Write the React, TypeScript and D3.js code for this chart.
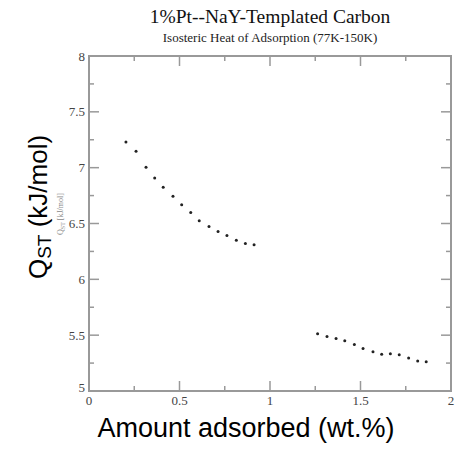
import React from "react";
import * as d3 from "d3";

const series1X = [0.204, 0.26, 0.315, 0.363, 0.41, 0.464, 0.512, 0.562, 0.609, 0.663, 0.713, 0.762, 0.814, 0.864, 0.912];
const series1Y = [7.23, 7.146, 7.003, 6.908, 6.824, 6.744, 6.667, 6.598, 6.524, 6.473, 6.429, 6.393, 6.351, 6.321, 6.31];
const series2X = [1.263, 1.315, 1.365, 1.413, 1.466, 1.514, 1.569, 1.617, 1.665, 1.714, 1.766, 1.816, 1.863];
const series2Y = [5.512, 5.488, 5.47, 5.449, 5.417, 5.381, 5.351, 5.33, 5.333, 5.324, 5.295, 5.268, 5.262];

const xMajor = [0, 0.5, 1, 1.5, 2];
const xMajorLabels = ["0", "0.5", "1", "1.5", "2"];
const xMinor = [0.25, 0.75, 1.25, 1.75];
const yMajor = [5, 5.5, 6, 6.5, 7, 7.5, 8];
const yMajorLabels = ["5", "5.5", "6", "6.5", "7", "7.5", "8"];
const yMinor = [5.25, 5.75, 6.25, 6.75, 7.25, 7.75];

const title = "1%Pt--NaY-Templated Carbon";
const subtitle = "Isosteric Heat of Adsorption (77K-150K)";

export default function App() {
  const W = 458, H = 452;
  const left = 89, right = 451, top = 56, bottom = 391;
  const x = d3.scaleLinear().domain([0, 2]).range([left, right]);
  const y = d3.scaleLinear().domain([5, 8]).range([bottom, top]);
  const axisColor = "#999";
  const serif = "'Liberation Serif', 'Times New Roman', serif";
  const sans = "'Liberation Sans', Arial, sans-serif";
  const pts = [
    ...series1X.map((v, i) => [v, series1Y[i]]),
    ...series2X.map((v, i) => [v, series2Y[i]]),
  ];
  return (
    <svg width={W} height={H} style={{ position: "absolute", left: 0, top: 0, background: "#fff" }}>
      <rect x={0} y={0} width={W} height={H} fill="#fff" />
      <text x={270} y={23} textAnchor="middle" fontFamily={serif} fontSize={19.5} fill="#111">{title}</text>
      <text x={270} y={42} textAnchor="middle" fontFamily={serif} fontSize={13} fill="#222">{subtitle}</text>
      {xMajor.map((v) => (
        <g key={"xM" + v}>
          <line x1={x(v)} x2={x(v)} y1={bottom} y2={bottom - 10} stroke={axisColor} strokeWidth={1.5} />
          <line x1={x(v)} x2={x(v)} y1={top} y2={top + 10} stroke={axisColor} strokeWidth={1.5} />
        </g>
      ))}
      {xMinor.map((v) => (
        <g key={"xm" + v}>
          <line x1={x(v)} x2={x(v)} y1={bottom} y2={bottom - 5} stroke={axisColor} strokeWidth={1.5} />
          <line x1={x(v)} x2={x(v)} y1={top} y2={top + 5} stroke={axisColor} strokeWidth={1.5} />
        </g>
      ))}
      {yMajor.map((v) => (
        <g key={"yM" + v}>
          <line x1={left} x2={left + 10} y1={y(v)} y2={y(v)} stroke={axisColor} strokeWidth={1.5} />
          <line x1={right} x2={right - 10} y1={y(v)} y2={y(v)} stroke={axisColor} strokeWidth={1.5} />
        </g>
      ))}
      {yMinor.map((v) => (
        <g key={"ym" + v}>
          <line x1={left} x2={left + 5} y1={y(v)} y2={y(v)} stroke={axisColor} strokeWidth={1.5} />
          <line x1={right} x2={right - 5} y1={y(v)} y2={y(v)} stroke={axisColor} strokeWidth={1.5} />
        </g>
      ))}
      <rect x={left} y={top} width={right - left} height={bottom - top} fill="none" stroke={axisColor} strokeWidth={2} />
      {xMajor.map((v, i) => (
        <text key={"xl" + v} x={x(v)} y={bottom + 14} textAnchor="middle" fontFamily={serif} fontSize={13} fill="#444">{xMajorLabels[i]}</text>
      ))}
      {yMajor.map((v, i) => (
        <text key={"yl" + v} x={left - 4} y={y(v) - (v === 5 ? 4 : 0)} dy="0.35em" textAnchor="end" fontFamily={serif} fontSize={13} fill="#444">{yMajorLabels[i]}</text>
      ))}
      {pts.map((p, i) => (
        <circle key={"p" + i} cx={x(p[0])} cy={y(p[1])} r={1.5} fill="#222" />
      ))}
      <text transform={`translate(63,214) rotate(-90)`} textAnchor="middle" fontFamily={serif} fontSize={8} fill="#888">
        Q<tspan fontSize={6} dy={2}>ST</tspan><tspan dy={-2}> [kJ/mol]</tspan>
      </text>
      <text transform={`translate(47,207) rotate(-90)`} textAnchor="middle" fontFamily={sans} fontSize={26} fill="#000">
        Q<tspan fontSize={19} dy={4}>ST</tspan><tspan dy={-4}> (kJ/mol)</tspan>
      </text>
      <text x={246} y={437} textAnchor="middle" fontFamily={sans} fontSize={27} fill="#000">Amount adsorbed (wt.%)</text>
    </svg>
  );
}
